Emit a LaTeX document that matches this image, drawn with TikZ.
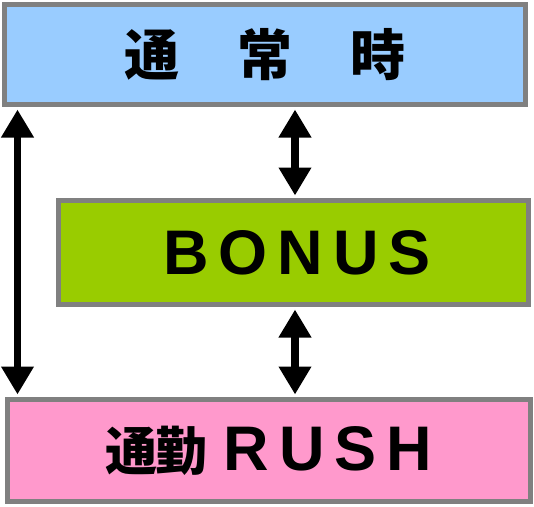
\documentclass[tikz,border=0pt]{standalone}
\usepackage{fontspec}
\setmainfont{Liberation Sans}
\newfontfamily\cjk{Noto Sans CJK JP}
\usetikzlibrary{arrows.meta}
\definecolor{boxgray}{HTML}{808080}
\definecolor{topblue}{HTML}{99CCFF}
\definecolor{midgreen}{HTML}{99CC00}
\definecolor{botpink}{HTML}{FF99CC}
\newcommand\lgap{\hspace{10pt}}
\begin{document}
\begin{tikzpicture}[x=1pt,y=-1pt,
  box/.style={draw=boxgray, line width=5pt, inner sep=0pt},
  dbl/.style={line width=7.5pt, {Triangle[width=31pt,length=28pt]}-{Triangle[width=31pt,length=28pt]}, shorten <=2.5pt, shorten >=2.5pt}]
\useasboundingbox (0,0) rectangle (534,506);
\node[box, fill=topblue, minimum width=521pt, minimum height=100pt] (top) at (265,54.5)
  {\raisebox{-2.5pt}{\cjk\bfseries\fontsize{55}{55}\selectfont 通\hspace{58pt}常\hspace{58pt}時}\hspace{4pt}};
\node[box, fill=midgreen, minimum width=470pt, minimum height=104pt] (mid) at (293.5,252.5)
  {\hspace{7pt}\bfseries\fontsize{63}{63}\selectfont B\lgap O\lgap N\lgap U\lgap S};
\node[box, fill=botpink, minimum width=523pt, minimum height=102pt] (bot) at (269,450.5)
  {\raisebox{-2pt}{{\cjk\bfseries\fontsize{52}{52}\selectfont 通\hspace{-2pt}勤}\hspace{16pt}\bfseries\fontsize{63}{63}\selectfont R\lgap U\lgap S\lgap H}\hspace{12pt}};
\draw[dbl] ([xshift=15.5pt]top.south west) -- ([xshift=12.5pt]bot.north west);
\draw[dbl] ([xshift=1.5pt]top.south -| mid.north) -- ([xshift=1.5pt]mid.north);
\draw[dbl] ([xshift=1.5pt]mid.south) -- ([xshift=1.5pt]bot.north -| mid.south);
\end{tikzpicture}
\end{document}
